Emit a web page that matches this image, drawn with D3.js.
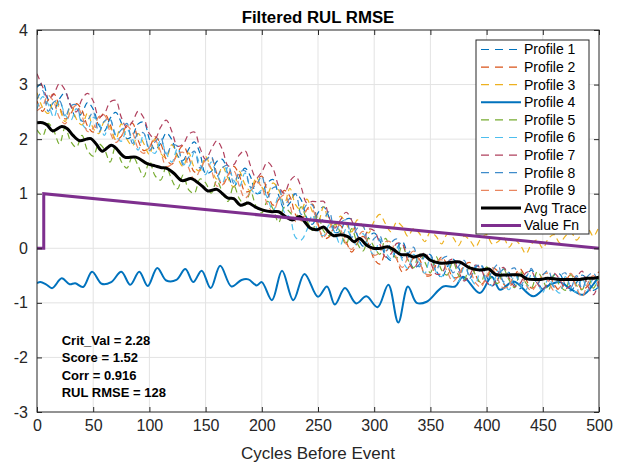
<!DOCTYPE html>
<html>
<head>
<meta charset="utf-8">
<script src="https://cdn.jsdelivr.net/npm/d3@7"></script>
<style>
body { margin: 0; background: #fff; }
svg { display: block; font-family: "Liberation Sans", Arial, Helvetica, sans-serif; }
</style>
</head>
<body>
<svg id="chart" width="622" height="466"></svg>
<script>
// cycle grid for the dashed profiles (every 5 cycles)
var cycles = d3.range(0, 505, 5);

var profile1 = [2.95,3.03,2.72,2.53,2.74,2.85,2.61,2.39,2.48,2.67,2.55,2.26,2.15,2.38,2.49,2.30,2.01,2.07,2.28,2.31,
  2.00,1.81,1.92,2.11,1.99,1.70,1.61,1.82,1.95,1.74,1.37,1.41,1.59,1.63,1.34,1.13,1.31,1.47,1.31,1.01,
  1.03,1.20,1.26,0.97,0.73,0.83,1.00,0.89,0.56,0.44,0.65,0.76,0.56,0.29,0.32,0.53,0.53,0.24,0.04,0.20,
  0.28,0.14,-0.13,-0.22,-0.01,0.12,-0.12,-0.36,-0.30,-0.11,-0.12,-0.40,-0.54,-0.34,-0.20,-0.35,-0.57,-0.56,-0.36,-0.30,
  -0.52,-0.69,-0.57,-0.38,-0.44,-0.67,-0.74,-0.52,-0.40,-0.59,-0.75,-0.69,-0.49,-0.47,-0.67,-0.78,-0.63,-0.49,-0.59,-0.77,-0.70];
var profile2 = [2.70,2.51,2.72,2.83,2.59,2.37,2.46,2.65,2.53,2.24,2.13,2.36,2.47,2.28,1.99,2.05,2.26,2.29,1.98,1.79,
  1.85,2.04,1.92,1.63,1.54,1.75,1.88,1.67,1.40,1.44,1.62,1.66,1.37,1.16,1.34,1.50,1.34,1.04,1.06,1.24,
  1.32,1.03,0.79,0.89,1.06,0.95,0.62,0.50,0.71,0.81,0.45,0.18,0.21,0.42,0.42,0.13,-0.07,0.09,0.22,0.08,
  -0.20,-0.29,-0.08,0.05,-0.19,-0.43,-0.37,-0.18,-0.19,-0.49,-0.50,-0.30,-0.16,-0.31,-0.53,-0.52,-0.32,-0.26,-0.48,-0.66,
  -0.55,-0.36,-0.42,-0.65,-0.72,-0.50,-0.38,-0.57,-0.73,-0.67,-0.48,-0.46,-0.66,-0.77,-0.62,-0.48,-0.58,-0.76,-0.69,-0.55,-0.43];
var profile3 = [2.85,2.58,2.47,2.70,2.56,2.32,2.62,2.37,2.26,2.48,2.20,2.10,2.32,2.22,1.99,2.28,2.00,1.88,2.10,1.92,
  1.72,2.01,1.74,1.66,1.90,1.66,1.50,1.75,1.48,1.42,1.68,1.46,1.27,1.50,1.28,1.12,1.41,1.17,1.05,1.30,
  1.12,1.00,1.20,1.07,0.81,1.10,0.80,0.70,0.90,0.67,0.47,0.76,0.47,0.39,0.59,0.45,0.30,0.52,0.40,0.28,
  0.50,0.62,0.45,0.30,0.48,0.40,0.22,0.36,0.28,0.12,0.30,0.22,0.08,0.26,0.20,0.05,0.22,0.15,0.02,0.18,
  0.25,0.08,0.12,0.20,0.02,0.15,0.06,-0.10,0.08,0.15,0.00,0.18,0.25,0.10,0.22,0.30,0.15,0.28,0.36,0.22,0.40];
var profile5 = [2.17,2.06,2.29,2.15,1.91,2.21,1.96,1.85,2.07,1.79,1.69,1.91,1.81,1.58,1.87,1.59,1.47,1.69,1.51,1.31,
  1.60,1.33,1.25,1.49,1.25,1.09,1.34,1.07,1.01,1.27,1.20,1.01,1.24,1.02,0.86,1.15,0.91,0.79,1.04,0.76,
  0.65,0.86,0.72,0.47,0.75,0.66,0.55,0.76,0.52,0.33,0.60,0.32,0.23,0.44,0.29,0.07,0.36,0.09,-0.05,0.18,
  0.02,-0.11,0.18,-0.05,-0.18,0.05,-0.21,-0.36,-0.10,-0.25,-0.45,-0.15,-0.40,-0.49,-0.24,-0.49,-0.58,-0.32,-0.48,-0.63,
  -0.34,-0.59,-0.64,-0.38,-0.58,-0.72,-0.43,-0.64,-0.72,-0.43,-0.58,-0.77,-0.49,-0.68,-0.77,-0.48,-0.68,-0.76,-0.50,-0.73,-0.50];
var profile6 = [2.55,2.78,2.64,2.40,2.70,2.45,2.34,2.56,2.28,2.18,2.40,2.30,2.07,2.36,2.08,1.96,2.18,2.00,1.80,2.09,
  1.82,1.74,1.98,1.74,1.58,1.83,1.56,1.50,1.76,1.54,1.35,1.58,1.36,1.20,1.49,1.25,1.13,1.38,1.10,0.99,
  1.06,0.93,0.67,0.96,0.66,0.56,0.20,0.15,0.33,0.61,0.31,0.23,0.43,0.29,0.06,0.36,0.18,0.05,0.27,0.02,
  -0.12,0.17,-0.06,-0.19,0.04,-0.22,-0.37,-0.11,-0.26,-0.46,-0.18,-0.43,-0.52,-0.27,-0.52,-0.61,-0.35,-0.51,-0.66,-0.37,
  -0.63,-0.68,-0.42,-0.62,-0.76,-0.47,-0.68,-0.76,-0.47,-0.62,-0.81,-0.54,-0.72,-0.82,-0.52,-0.73,-0.80,-0.55,-0.77,-0.55,-0.78];
var profile7 = [3.20,2.96,2.74,2.83,3.02,2.90,2.61,2.50,2.73,2.84,2.70,2.41,2.47,2.68,2.71,2.40,2.21,2.32,2.51,2.39,
  2.10,2.01,2.22,2.35,2.14,1.87,1.91,2.09,2.13,1.84,1.63,1.81,1.97,1.81,1.51,1.53,1.71,1.79,1.51,1.29,
  1.40,1.58,1.46,1.14,1.01,1.23,1.32,1.12,0.83,0.86,0.85,0.86,0.56,0.37,0.52,0.66,0.51,0.24,0.14,0.35,
  0.32,0.08,-0.16,-0.10,0.09,0.08,-0.22,-0.38,-0.20,-0.08,-0.25,-0.47,-0.46,-0.26,-0.20,-0.42,-0.60,-0.49,-0.31,-0.38,
  -0.62,-0.69,-0.47,-0.35,-0.54,-0.70,-0.64,-0.45,-0.43,-0.64,-0.75,-0.61,-0.46,-0.57,-0.74,-0.68,-0.53,-0.42,-0.69,-0.85,-0.60];
var profile8 = [2.73,2.89,2.51,2.68,2.71,2.41,2.61,2.63,2.33,2.35,2.50,2.13,2.33,2.37,2.07,2.17,2.29,1.92,2.11,2.11,
  1.79,1.95,2.03,1.70,1.89,1.87,1.53,1.67,1.78,1.47,1.61,1.69,1.32,1.48,1.52,1.19,1.39,1.42,1.12,1.16,
  1.32,0.93,1.11,1.11,0.79,0.92,1.00,0.62,0.80,0.79,0.48,0.54,0.67,0.29,0.47,0.52,0.20,0.37,0.41,0.04,
  0.18,0.23,-0.08,0.10,0.17,-0.17,-0.10,0.02,-0.34,-0.15,-0.12,-0.41,-0.20,-0.15,-0.45,-0.33,-0.22,-0.55,-0.33,-0.31,
  -0.60,-0.42,-0.30,-0.61,-0.42,-0.36,-0.67,-0.54,-0.37,-0.66,-0.49,-0.41,-0.71,-0.52,-0.45,-0.72,-0.50,-0.74,-0.51,-0.45,-0.72];
var profile9 = [2.52,2.61,2.80,2.68,2.39,2.28,2.51,2.62,2.43,2.14,2.20,2.41,2.44,2.13,1.94,2.05,2.24,2.12,1.83,1.74,
  1.85,1.98,1.77,1.50,1.54,1.72,1.76,1.47,1.26,1.44,1.60,1.44,1.14,1.16,1.34,1.42,1.14,0.92,1.03,1.22,
  1.12,0.80,0.67,0.89,0.98,0.78,0.49,0.52,0.71,0.71,0.40,0.21,0.36,0.50,0.35,0.08,-0.02,0.19,0.31,0.07,
  -0.13,-0.07,0.12,0.11,-0.19,-0.35,-0.17,-0.05,-0.22,-0.46,-0.47,-0.27,-0.21,-0.43,-0.61,-0.50,-0.32,-0.39,-0.63,-0.71,
  -0.50,-0.38,-0.57,-0.73,-0.67,-0.48,-0.46,-0.67,-0.78,-0.64,-0.50,-0.61,-0.78,-0.72,-0.57,-0.46,-0.73,-0.89,-0.64,-0.50,-0.70];

// solid profile 4: [cycle, value] read at its peaks and dips
var profile4 = [[0,-0.64],[3,-0.62],[8,-0.66],[13.6,-0.73],[22,-0.55],[29,-0.66],[34,-0.64],[41,-0.71],[49,-0.43],
  [57.5,-0.65],[66,-0.62],[75,-0.43],[83,-0.67],[91,-0.43],[98.5,-0.69],[107,-0.36],[115,-0.59],[124,-0.58],
  [132,-0.38],[139,-0.62],[146.5,-0.41],[154.5,-0.73],[163,-0.32],[173,-0.70],[182,-0.58],[188,-0.57],
  [195.5,-0.68],[200,-0.62],[209,-0.95],[218,-0.41],[228,-0.95],[238,-0.47],[250,-0.89],[258,-0.70],
  [265,-1.03],[274,-0.73],[284,-1.01],[293,-0.88],[303,-1.08],[312.6,-0.67],[321.4,-1.36],[330,-0.70],
  [337.8,-1.0],[346.7,-0.98],[361.5,-0.70],[372,-0.70],[379,-0.52],[394,-0.82],[404.5,-0.52],[412,-0.76],
  [424,-0.61],[441.5,-0.88],[453.5,-0.70],[465,-0.62],[475,-0.75],[486,-0.85],[498,-0.58],[500,-0.55]];

var avgTrace = [[0,2.30],[5,2.30],[9,2.26],[14,2.15],[22,2.23],[27,2.19],[32,2.07],[38,1.97],[44,2.0],[48,2.01],
  [53,1.90],[58,1.78],[66,1.89],[70,1.84],[78,1.67],[88,1.67],[98,1.55],[105,1.51],[110,1.48],[116,1.46],
  [122,1.37],[129,1.24],[137,1.28],[142,1.22],[147,1.14],[152,1.05],[160,1.08],[165,1.00],[170,0.92],[175,0.91],
  [181,0.79],[188,0.83],[194,0.76],[201,0.70],[209,0.67],[215,0.67],[221,0.58],[227,0.52],[234,0.58],[238,0.49],
  [243,0.37],[249,0.34],[255,0.39],[259,0.31],[264,0.23],[270,0.25],[277,0.21],[282,0.12],[287,0.18],[293,0.06],
  [299,0.0],[306,0.0],[312,0.03],[317,-0.02],[323,-0.11],[330,-0.12],[335,-0.16],[344,-0.12],[350,-0.22],[358,-0.27],
  [364,-0.27],[371,-0.25],[376,-0.25],[385,-0.36],[394,-0.40],[402,-0.38],[408,-0.48],[418,-0.49],[430,-0.49],
  [436,-0.56],[448,-0.57],[454,-0.55],[465,-0.57],[477,-0.57],[483,-0.57],[490,-0.55],[495,-0.55],[500,-0.53]];

var valueFn = [[0,0],[6,0],[6,1],[500,0]];

var legendLabels = ["Profile 1","Profile 2","Profile 3","Profile 4","Profile 5","Profile 6",
  "Profile 7","Profile 8","Profile 9","Avg Trace","Value Fn"];
var xTicks = d3.range(0, 501, 50);
var yTicks = d3.range(-3, 5, 1);
var notes = ["Crit_Val = 2.28", "Score = 1.52", "Corr = 0.916", "RUL RMSE = 128"];

var colors = ["#0072bd","#d95319","#edb120","#0072bd","#77ac30","#4dbeee","#b0415e","#3f8ccb","#e98660","#000000","#7e2f8e"];
var widths = [1.2, 1.2, 1.2, 2, 1.2, 1.2, 1.2, 1.2, 1.2, 3, 3];
var dashed = [true, true, true, false, true, true, true, true, true, false, false];

var W = 622, H = 466,
    margin = {top: 30, right: 23, bottom: 54, left: 37},
    iw = W - margin.left - margin.right,
    ih = H - margin.top - margin.bottom;

var svg = d3.select("#chart");
var g = svg.append("g").attr("transform", "translate(" + margin.left + "," + margin.top + ")");

var x = d3.scaleLinear().domain([0, 500]).range([0, iw]);
var y = d3.scaleLinear().domain([-3, 4]).range([ih, 0]);

// grid
g.append("g").selectAll("line").data(xTicks.slice(1, -1)).enter().append("line")
    .attr("x1", function(d) { return x(d); }).attr("x2", function(d) { return x(d); })
    .attr("y1", 0).attr("y2", ih)
    .attr("stroke", "#e3e3e3").attr("stroke-width", 1);
g.append("g").selectAll("line").data(yTicks.slice(1, -1)).enter().append("line")
    .attr("y1", function(d) { return y(d); }).attr("y2", function(d) { return y(d); })
    .attr("x1", 0).attr("x2", iw)
    .attr("stroke", "#e3e3e3").attr("stroke-width", 1);

g.append("clipPath").attr("id", "clip").append("rect").attr("width", iw).attr("height", ih);
var plot = g.append("g").attr("clip-path", "url(#clip)");

var profileLine = d3.line()
    .x(function(d, i) { return x(cycles[i]); })
    .y(function(d) { return y(d); })
    .curve(d3.curveCatmullRom);
var pairLine = d3.line()
    .x(function(d) { return x(d[0]); })
    .y(function(d) { return y(d[1]); })
    .curve(d3.curveCatmullRom);

var series = [profile1, profile2, profile3, profile4, profile5, profile6, profile7, profile8, profile9];
series.forEach(function(s, k) {
    var path = plot.append("path")
        .attr("fill", "none")
        .attr("stroke", colors[k])
        .attr("stroke-width", widths[k])
        .attr("stroke-linejoin", "round");
    if (k === 3) path.attr("d", pairLine(s));
    else path.attr("d", profileLine(s)).attr("stroke-dasharray", "6,4");
});

plot.append("path").datum(avgTrace)
    .attr("fill", "none").attr("stroke", colors[9]).attr("stroke-width", widths[9])
    .attr("stroke-linejoin", "round")
    .attr("d", pairLine);

plot.append("path").datum(valueFn)
    .attr("fill", "none").attr("stroke", colors[10]).attr("stroke-width", widths[10])
    .attr("d", d3.line().x(function(d) { return x(d[0]); }).y(function(d) { return y(d[1]); }));

// axes, MATLAB style: ticks inside on all four sides
var axisColor = "#262626";
var xb = g.append("g").attr("transform", "translate(0," + ih + ")")
    .call(d3.axisBottom(x).tickValues(xTicks).tickSize(-5).tickPadding(8).tickFormat(d3.format("d")));
var xt = g.append("g").call(d3.axisTop(x).tickValues(xTicks).tickSize(-5).tickFormat(""));
var yl = g.append("g")
    .call(d3.axisLeft(y).tickValues(yTicks).tickSize(-5).tickPadding(9).tickFormat(function(d) { return String(d); }));
var yr = g.append("g").attr("transform", "translate(" + iw + ",0)")
    .call(d3.axisRight(y).tickValues(yTicks).tickSize(-5).tickFormat(""));
[xb, xt, yl, yr].forEach(function(a) {
    a.select(".domain").remove();
    a.selectAll("line").attr("stroke", axisColor);
    a.selectAll("text").attr("fill", axisColor).style("font-size", "16px")
        .style("font-family", "'Liberation Sans', Arial, sans-serif");
});
g.append("rect").attr("width", iw).attr("height", ih)
    .attr("fill", "none").attr("stroke", axisColor).attr("stroke-width", 1);

// title and label
svg.append("text").attr("x", margin.left + iw / 2).attr("y", 23)
    .attr("text-anchor", "middle").attr("font-weight", "bold").attr("font-size", 16.8)
    .attr("fill", "#000").text("Filtered RUL RMSE");
svg.append("text").attr("x", margin.left + iw / 2).attr("y", 459)
    .attr("text-anchor", "middle").attr("font-size", 17)
    .attr("fill", axisColor).text("Cycles Before Event");

// stats notes
g.append("g").selectAll("text").data(notes).enter().append("text")
    .attr("x", x(22))
    .attr("y", function(d, i) { return y(-1.77) + i * 17.5; })
    .attr("font-weight", "bold").attr("font-size", 13).attr("fill", "#000")
    .text(function(d) { return d; });

// legend
var lg = svg.append("g").attr("transform", "translate(476,40)");
lg.append("rect").attr("width", 113).attr("height", 194)
    .attr("fill", "#fff").attr("stroke", axisColor).attr("stroke-width", 1);
var item = lg.selectAll("g.item").data(legendLabels).enter().append("g")
    .attr("class", "item")
    .attr("transform", function(d, i) { return "translate(0," + (9.5 + i * 17.6) + ")"; });
item.append("line").attr("x1", 5).attr("x2", 45).attr("y1", 0).attr("y2", 0)
    .attr("stroke", function(d, i) { return colors[i]; })
    .attr("stroke-width", function(d, i) { return widths[i]; })
    .attr("stroke-dasharray", function(d, i) { return dashed[i] ? "8,6" : null; });
item.append("text").attr("x", 48).attr("y", 0).attr("dy", "0.35em")
    .attr("font-size", 14).attr("fill", "#000")
    .text(function(d) { return d; });
</script>
</body>
</html>
